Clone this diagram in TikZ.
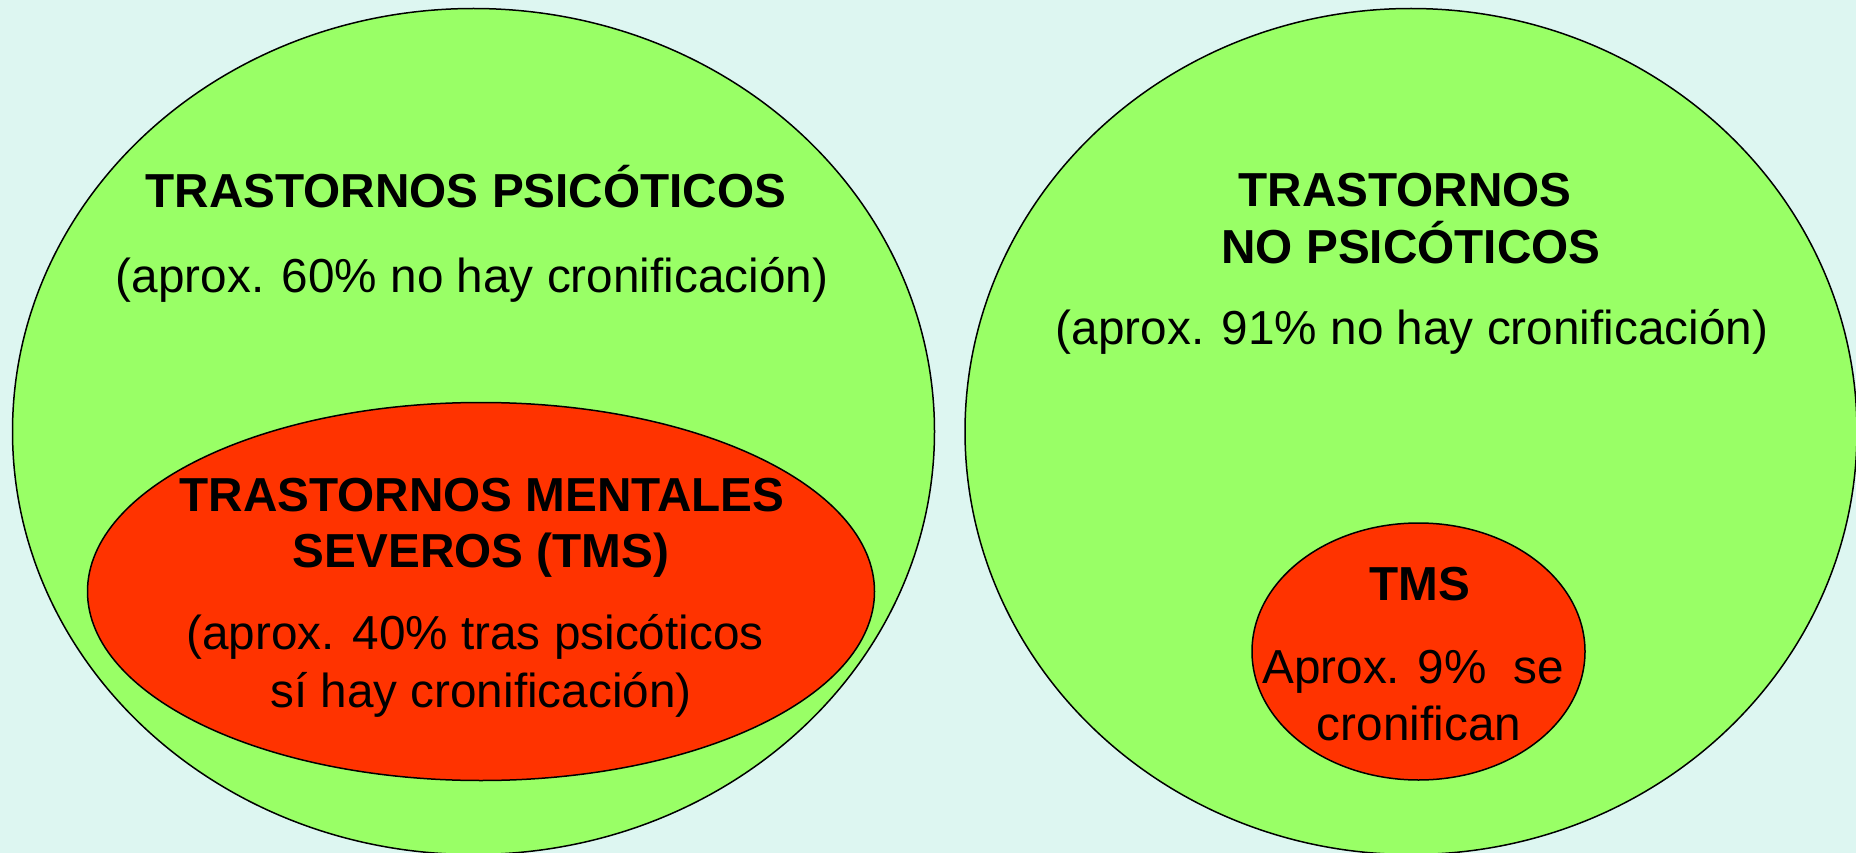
\documentclass[tikz,border=0pt]{standalone}
\usepackage{fontspec}
\setmainfont{Liberation Sans}
\definecolor{bgc}{HTML}{DDF6F1}
\definecolor{grn}{HTML}{99FF66}
\definecolor{redd}{HTML}{FF3300}
\begin{document}
\begin{tikzpicture}[x=1pt,y=-1pt,
  oval/.style={draw=black,line width=1.5pt},
  ttl/.style={anchor=base,inner sep=0pt,font=\fontsize{47.7}{57}\selectfont\bfseries},
  txt/.style={anchor=base,inner sep=0pt,font=\fontsize{47.7}{57}\selectfont}]
\fill[bgc] (0,0) rectangle (1856,853);
\useasboundingbox (0,0) rectangle (1856,853);
\draw[oval,fill=grn] (473.5,431.5) ellipse [x radius=461pt, y radius=423pt];
\draw[oval,fill=grn] (1411,431.5) ellipse [x radius=446pt, y radius=423pt];
\draw[oval,fill=redd] (481,591.5) ellipse [x radius=393.5pt, y radius=189pt];
\draw[oval,fill=redd] (1418.5,651.5) ellipse [x radius=166.5pt, y radius=128.5pt];
\node[ttl] (t1) at (466,208) {TRASTORNOS PSICÓTICOS};
\node[txt] (s1) at (472,292) {(aprox. 60\% no hay cronificación)};
\node[ttl] (t2a) at (482,511) {TRASTORNOS MENTALES};
\node[ttl] (t2b) at (481,567) {SEVEROS (TMS)};
\node[txt] (s2a) at (475,649) {(aprox. 40\% tras psicóticos};
\node[txt] (s2b) at (481,707) {sí hay cronificación)};
\node[ttl] (t3a) at (1405,207) {TRASTORNOS};
\node[ttl] (t3b) at (1411,264) {NO PSICÓTICOS};
\node[txt] (s3) at (1412,344) {(aprox. 91\% no hay cronificación)};
\node[ttl] (t4) at (1420,600) {TMS};
\node[txt] (s4a) at (1413,683) {Aprox. 9\%\ \ se};
\node[txt] (s4b) at (1419,740) {cronifican};
\end{tikzpicture}
\end{document}
